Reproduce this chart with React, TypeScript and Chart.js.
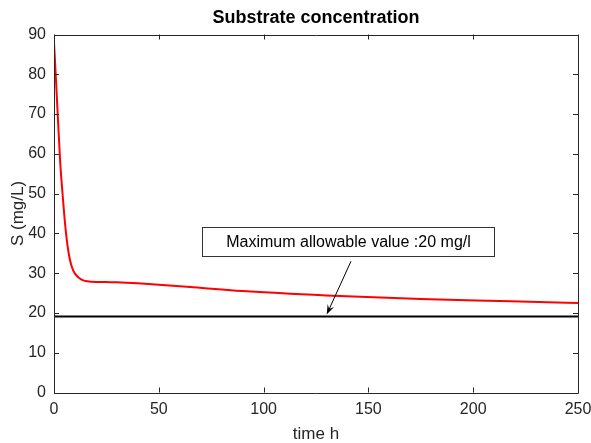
import React, { useEffect, useRef } from "react";
import { Chart, registerables } from "chart.js";
Chart.register(...registerables);

// Data
const timeH = [0, 1, 2, 3, 4, 5, 6, 7, 8, 9, 10, 12, 14, 16, 18, 20, 25, 30, 40, 50, 65, 90, 130, 175, 218, 250];
const substrate = [88, 78, 67.5, 57.5, 50.5, 44, 38.8, 35, 32.5, 30.9, 29.9, 28.8, 28.2, 27.95, 27.85, 27.8, 27.75, 27.7, 27.45, 27.1, 26.5, 25.5, 24.4, 23.5, 22.95, 22.5];
const limitTime = [0, 250];
const limitValue = [19.1, 19.1];

const xRange = [0, 250];
const yRange = [0, 90];
const xStep = 50;
const yStep = 10;

const titleText = "Substrate concentration";
const xLabel = "time h";
const yLabel = "S (mg/L)";
const noteText = "Maximum allowable value :20 mg/l";

// annotation geometry in data coordinates
const noteBox = { x0: 70.5, x1: 209.9, yTop: 41.7, yBottom: 34.2 };
const arrowFrom = { x: 141.7, y: 33.0 };
const arrowTo = { x: 130.1, y: 19.6 };

const FONT = "'Liberation Sans', Arial, Helvetica, sans-serif";
const AXIS = "#262626";

const framePlugin = {
  id: "matlabFrame",
  afterDatasetsDraw(chart: any) {
    const { ctx, chartArea: a, scales } = chart;
    const xs = scales.x;
    const ys = scales.y;
    ctx.save();
    ctx.strokeStyle = AXIS;
    ctx.lineWidth = 1;
    ctx.beginPath();
    ctx.rect(Math.round(a.left) + 0.5, Math.round(a.top) + 0.5, Math.round(a.right - a.left), Math.round(a.bottom - a.top));
    ctx.stroke();
    const tl = 5;
    ctx.beginPath();
    xs.ticks.forEach((t: any) => {
      const px = Math.round(xs.getPixelForValue(t.value)) + 0.5;
      ctx.moveTo(px, a.bottom);
      ctx.lineTo(px, a.bottom - tl);
      ctx.moveTo(px, a.top);
      ctx.lineTo(px, a.top + tl);
    });
    ys.ticks.forEach((t: any) => {
      const py = Math.round(ys.getPixelForValue(t.value)) + 0.5;
      ctx.moveTo(a.left, py);
      ctx.lineTo(a.left + tl, py);
      ctx.moveTo(a.right, py);
      ctx.lineTo(a.right - tl, py);
    });
    ctx.stroke();

    // annotation box
    const bx0 = Math.round(xs.getPixelForValue(noteBox.x0)) + 0.5;
    const bx1 = Math.round(xs.getPixelForValue(noteBox.x1)) + 0.5;
    const by0 = Math.round(ys.getPixelForValue(noteBox.yTop)) + 0.5;
    const by1 = Math.round(ys.getPixelForValue(noteBox.yBottom)) + 0.5;
    ctx.fillStyle = "#ffffff";
    ctx.fillRect(bx0, by0, bx1 - bx0, by1 - by0);
    ctx.strokeStyle = "#333333";
    ctx.strokeRect(bx0, by0, bx1 - bx0, by1 - by0);
    ctx.fillStyle = "#000000";
    ctx.font = "16px " + FONT;
    ctx.textAlign = "center";
    ctx.textBaseline = "middle";
    ctx.fillText(noteText, (bx0 + bx1) / 2, (by0 + by1) / 2 + 1);

    // arrow
    const ax0 = xs.getPixelForValue(arrowFrom.x);
    const ay0 = ys.getPixelForValue(arrowFrom.y);
    const ax1 = xs.getPixelForValue(arrowTo.x);
    const ay1 = ys.getPixelForValue(arrowTo.y);
    const ang = Math.atan2(ay1 - ay0, ax1 - ax0);
    const hl = 10;
    const hw = 3.5;
    ctx.strokeStyle = "#000000";
    ctx.lineWidth = 1;
    ctx.beginPath();
    ctx.moveTo(ax0, ay0);
    ctx.lineTo(ax1 - Math.cos(ang) * 4, ay1 - Math.sin(ang) * 4);
    ctx.stroke();
    const bxp = ax1 - Math.cos(ang) * hl;
    const byp = ay1 - Math.sin(ang) * hl;
    const nx = -Math.sin(ang);
    const ny = Math.cos(ang);
    const mxp = ax1 - Math.cos(ang) * (hl * 0.6);
    const myp = ay1 - Math.sin(ang) * (hl * 0.6);
    ctx.fillStyle = "#000000";
    ctx.beginPath();
    ctx.moveTo(ax1, ay1);
    ctx.lineTo(bxp + nx * hw, byp + ny * hw);
    ctx.lineTo(mxp, myp);
    ctx.lineTo(bxp - nx * hw, byp - ny * hw);
    ctx.closePath();
    ctx.fill();
    ctx.restore();
  },
};

export default function App() {
  const ref = useRef<HTMLCanvasElement | null>(null);
  useEffect(() => {
    document.body.style.margin = "0";
    if (!ref.current) return;
    const chart = new Chart(ref.current, {
      type: "line",
      data: {
        datasets: [
          {
            label: "S",
            data: timeH.map((t, i) => ({ x: t, y: substrate[i] })),
            borderColor: "#ff0000",
            borderWidth: 2,
            pointRadius: 0,
            cubicInterpolationMode: "monotone",
            fill: false,
          },
          {
            label: "limit",
            data: limitTime.map((t, i) => ({ x: t, y: limitValue[i] })),
            borderColor: "#000000",
            borderWidth: 2,
            pointRadius: 0,
            fill: false,
          },
        ],
      },
      options: {
        animation: false,
        responsive: true,
        maintainAspectRatio: false,
        layout: { padding: { left: 0, right: 13, top: 0, bottom: 0 } },
        plugins: {
          legend: { display: false },
          tooltip: { enabled: false },
          title: {
            display: true,
            text: titleText,
            fullSize: false,
            color: "#000000",
            font: { family: FONT, size: 18, weight: "bold" },
            padding: { top: 7.2, bottom: 5.7 },
          },
        },
        scales: {
          x: {
            type: "linear",
            min: xRange[0],
            max: xRange[1],
            grid: { display: false, drawTicks: false },
            border: { display: false },
            ticks: {
              stepSize: xStep,
              color: AXIS,
              font: { family: FONT, size: 16 },
              padding: 7,
              maxRotation: 0,
            },
            title: {
              display: true,
              text: xLabel,
              color: AXIS,
              font: { family: FONT, size: 17, lineHeight: 1.0 },
              padding: { top: 0, bottom: 0 },
            },
            afterFit(scale: any) {
              scale.height = 50.5;
              scale.paddingLeft = 0;
              scale.paddingRight = 0;
            },
          },
          y: {
            type: "linear",
            min: yRange[0],
            max: yRange[1],
            grid: { display: false, drawTicks: false },
            border: { display: false },
            ticks: {
              stepSize: yStep,
              color: AXIS,
              font: { family: FONT, size: 16 },
              padding: 8,
            },
            title: {
              display: true,
              text: yLabel,
              color: AXIS,
              font: { family: FONT, size: 17 },
              padding: { top: 7.8, bottom: 0 },
            },
            afterFit(scale: any) {
              scale.width = 54;
              scale.paddingTop = 0;
              scale.paddingBottom = 0;
            },
          },
        },
      },
      plugins: [framePlugin],
    });
    return () => chart.destroy();
  }, []);
  return (
    <div style={{ position: "absolute", left: 0, top: 0, width: 591, height: 443, background: "#ffffff" }}>
      <canvas ref={ref} />
    </div>
  );
}
